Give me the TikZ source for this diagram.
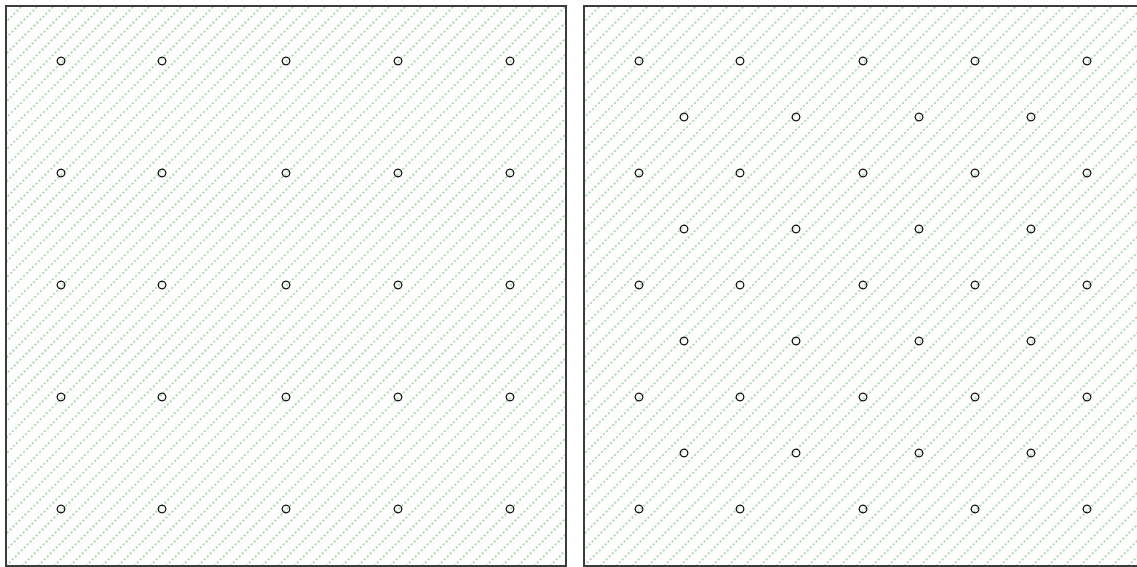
\documentclass[tikz,border=0pt]{standalone}
\definecolor{hatchgreen}{RGB}{175,220,175}
\definecolor{framegray}{RGB}{60,60,60}
\tikzset{
  pin/.style={circle, draw=black, line width=0.55pt, minimum size=0.16cm, inner sep=0pt},
  hatch/.style={hatchgreen, line width=1pt, dash pattern=on 1.2pt off 1.2pt},
  frame/.style={draw=framegray, line width=0.6pt}
}
\begin{document}
\begin{tikzpicture}[x=0.02cm, y=-0.02cm]
\useasboundingbox (0,0) rectangle (1137,567);
% left panel
\begin{scope}
\clip (6,6) rectangle (566,566);
\foreach \s in {-560,-544,...,560}
  \draw[hatch] (6+\s,566) -- (566+\s,6);
\end{scope}
\draw[frame] (6,6) rectangle (566,566);
% right panel
\begin{scope}
\clip (584,6) rectangle (1144,566);
\foreach \s in {-560,-544,...,560}
  \draw[hatch] (584+\s,566) -- (1144+\s,6);
\end{scope}
\draw[frame] (584,6) rectangle (1144,566);
% square grid
\foreach \x [count=\i] in {61,162,286,398,510}
  \foreach \y [count=\j] in {61,173,285,397,509}
    \node[pin] (l\i\j) at (\x,\y) {};
% offset grid
\foreach \x [count=\i] in {639,740,863,975,1087}
  \foreach \y [count=\j] in {61,173,285,397,509}
    \node[pin] (r\i\j) at (\x,\y) {};
\foreach \x [count=\i] in {684,796,919,1031}
  \foreach \y [count=\j] in {117,229,341,453}
    \node[pin] (m\i\j) at (\x,\y) {};
\end{tikzpicture}
\end{document}
